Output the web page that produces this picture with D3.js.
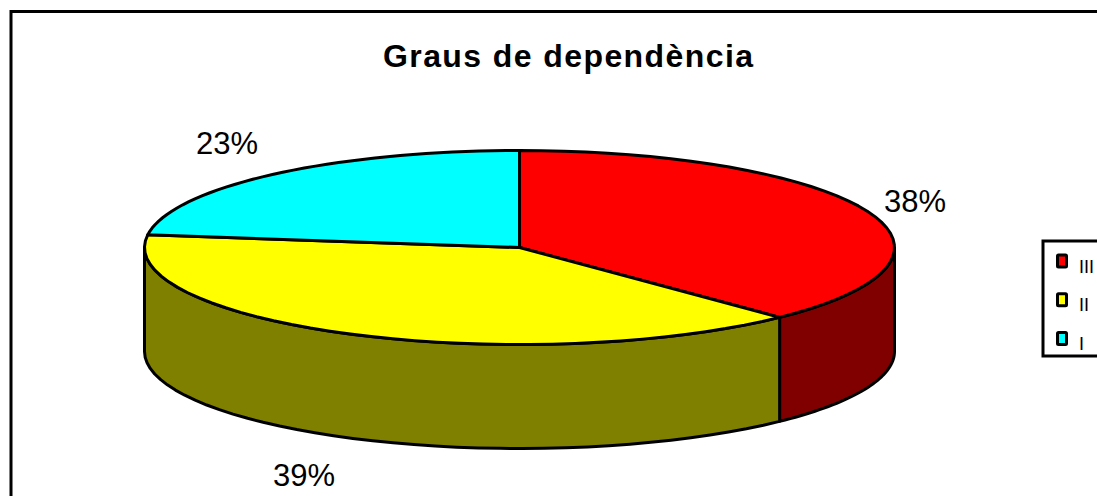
<!DOCTYPE html>
<html><head><meta charset="utf-8">
<script src="https://cdn.jsdelivr.net/npm/d3@7"></script>
<style>html,body{margin:0;padding:0;background:#fff}svg{display:block}text{font-family:"Liberation Sans",Arial,sans-serif;fill:#000}</style>
</head><body><svg id="c" width="1097" height="496"></svg>
<script>
const titleText = "Graus de dependència";
const categories = ["III","II","I"];
const values = [37.8,39.3,22.9];
const topColors = ["#ff0000","#ffff00","#00ffff"];
const sideColors = ["#800000","#808000","#008080"];

const W=1097,H=496,cx=519.5,cy=247.5,rx=375,ry=97,depth=104;
const svg=d3.select("#c");
svg.append("rect").attr("x",11).attr("y",11.5).attr("width",W+20).attr("height",H+20)
  .attr("fill","#fff").attr("stroke","#000").attr("stroke-width",3);
svg.append("text").attr("x",568).attr("y",67).attr("text-anchor","middle")
  .attr("font-size",32).attr("font-weight","bold").attr("textLength",370).text(titleText);

const arcs=d3.pie().sort(null).value(d=>d)(values);
const px=a=>cx+rx*Math.sin(a), py=a=>cy-ry*Math.cos(a);
const samples=(a0,a1)=>d3.range(0,41).map(i=>a0+(a1-a0)*i/40);
const line=d3.line();
function st(s){return s.attr("stroke","#000").attr("stroke-width",3).attr("stroke-linejoin","round");}

// side walls: only the front half (90° to 270°) is visible
const lo=Math.PI/2, hi=3*Math.PI/2;
arcs.forEach((d,i)=>{
  const a0=Math.max(d.startAngle,lo), a1=Math.min(d.endAngle,hi);
  if(a1<=a0) return;
  const s=samples(a0,a1);
  const pts=s.map(a=>[px(a),py(a)]).concat(s.slice().reverse().map(a=>[px(a),py(a)+depth]));
  st(svg.append("path").attr("d",line(pts)+"Z").attr("fill",sideColors[i]));
});
// top face
arcs.forEach((d,i)=>{
  const pts=[[cx,cy]].concat(samples(d.startAngle,d.endAngle).map(a=>[px(a),py(a)]));
  st(svg.append("path").attr("d",line(pts)+"Z").attr("fill",topColors[i]));
});
// percentage labels
const labelPos=[[915,212],[304,486],[227,154]];
values.forEach((v,i)=>{
  svg.append("text").attr("x",labelPos[i][0]).attr("y",labelPos[i][1]).attr("text-anchor","middle")
    .attr("font-size",31).text(Math.round(v)+"%");
});
// legend
svg.append("rect").attr("x",1043).attr("y",241).attr("width",80).attr("height",115)
  .attr("fill","#fff").attr("stroke","#000").attr("stroke-width",3);
const ly=d3.scalePoint().domain(categories).range([261,338.5]);
categories.forEach((c,i)=>{
  st(svg.append("rect").attr("x",1057.5).attr("y",ly(c)-6).attr("width",9).attr("height",12).attr("rx",1).attr("fill",topColors[i]));
  svg.append("text").attr("x",1079).attr("y",ly(c)+11.5).attr("font-size",18).text(c);
});
</script></body></html>
